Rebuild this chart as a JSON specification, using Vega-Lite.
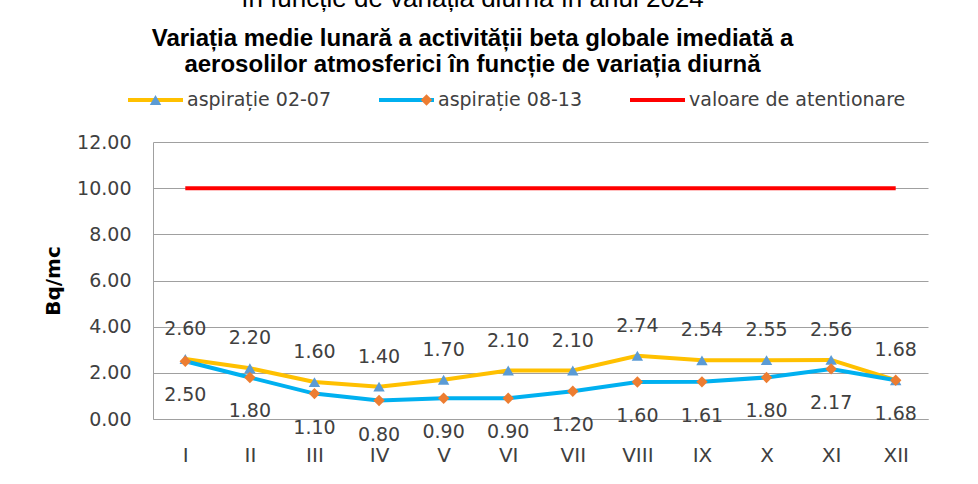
{
  "$schema": "https://vega.github.io/schema/vega-lite/v6.json",
  "width": 775,
  "height": 277,
  "autosize": {"type": "none"},
  "padding": {"left": 153, "top": 142, "right": 50, "bottom": 65},
  "background": "white",
  "config": {"view": {"stroke": null}},
  "title": {
    "text": "în funcție de variația diurnă în anul 2024",
    "subtitle": ["Variația medie lunară a activității beta globale imediată a", "aerosolilor atmosferici în funcție de variația diurnă"],
    "anchor": "middle",
    "dx": -68,
    "offset": 13,
    "font": "Liberation Sans",
    "fontSize": 26,
    "fontWeight": "normal",
    "color": "#000000",
    "subtitleFont": "Liberation Sans",
    "subtitleFontSize": 24,
    "subtitleFontWeight": "bold",
    "subtitleColor": "#000000",
    "subtitleLineHeight": 26,
    "subtitlePadding": 15
  },
  "data": {"values": [
    {"luna": "I", "serie": "aspirație 02-07", "valoare": 2.60},
    {"luna": "II", "serie": "aspirație 02-07", "valoare": 2.20},
    {"luna": "III", "serie": "aspirație 02-07", "valoare": 1.60},
    {"luna": "IV", "serie": "aspirație 02-07", "valoare": 1.40},
    {"luna": "V", "serie": "aspirație 02-07", "valoare": 1.70},
    {"luna": "VI", "serie": "aspirație 02-07", "valoare": 2.10},
    {"luna": "VII", "serie": "aspirație 02-07", "valoare": 2.10},
    {"luna": "VIII", "serie": "aspirație 02-07", "valoare": 2.74},
    {"luna": "IX", "serie": "aspirație 02-07", "valoare": 2.54},
    {"luna": "X", "serie": "aspirație 02-07", "valoare": 2.55},
    {"luna": "XI", "serie": "aspirație 02-07", "valoare": 2.56},
    {"luna": "XII", "serie": "aspirație 02-07", "valoare": 1.68},
    {"luna": "I", "serie": "aspirație 08-13", "valoare": 2.50},
    {"luna": "II", "serie": "aspirație 08-13", "valoare": 1.80},
    {"luna": "III", "serie": "aspirație 08-13", "valoare": 1.10},
    {"luna": "IV", "serie": "aspirație 08-13", "valoare": 0.80},
    {"luna": "V", "serie": "aspirație 08-13", "valoare": 0.90},
    {"luna": "VI", "serie": "aspirație 08-13", "valoare": 0.90},
    {"luna": "VII", "serie": "aspirație 08-13", "valoare": 1.20},
    {"luna": "VIII", "serie": "aspirație 08-13", "valoare": 1.60},
    {"luna": "IX", "serie": "aspirație 08-13", "valoare": 1.61},
    {"luna": "X", "serie": "aspirație 08-13", "valoare": 1.80},
    {"luna": "XI", "serie": "aspirație 08-13", "valoare": 2.17},
    {"luna": "XII", "serie": "aspirație 08-13", "valoare": 1.68},
    {"luna": "I", "serie": "valoare de atentionare", "valoare": 10},
    {"luna": "II", "serie": "valoare de atentionare", "valoare": 10},
    {"luna": "III", "serie": "valoare de atentionare", "valoare": 10},
    {"luna": "IV", "serie": "valoare de atentionare", "valoare": 10},
    {"luna": "V", "serie": "valoare de atentionare", "valoare": 10},
    {"luna": "VI", "serie": "valoare de atentionare", "valoare": 10},
    {"luna": "VII", "serie": "valoare de atentionare", "valoare": 10},
    {"luna": "VIII", "serie": "valoare de atentionare", "valoare": 10},
    {"luna": "IX", "serie": "valoare de atentionare", "valoare": 10},
    {"luna": "X", "serie": "valoare de atentionare", "valoare": 10},
    {"luna": "XI", "serie": "valoare de atentionare", "valoare": 10},
    {"luna": "XII", "serie": "valoare de atentionare", "valoare": 10}
  ]},
  "encoding": {
    "x": {
      "field": "luna", "type": "ordinal",
      "sort": ["I", "II", "III", "IV", "V", "VI", "VII", "VIII", "IX", "X", "XI", "XII"],
      "scale": {"type": "point", "padding": 0.5},
      "axis": {
        "title": null, "labelAngle": 0, "labelPadding": 26, "ticks": false,
        "domain": true, "domainColor": "#A0A0A0", "domainWidth": 1, "grid": false,
        "labelFont": "DejaVu Sans", "labelFontSize": 20, "labelColor": "#404040"
      }
    },
    "y": {
      "field": "valoare", "type": "quantitative",
      "scale": {"domain": [0, 12], "nice": false, "zero": true},
      "axis": {
        "title": "Bq/mc", "values": [0, 2, 4, 6, 8, 10, 12], "format": ".2f",
        "ticks": false, "domain": true, "domainColor": "#A0A0A0", "domainWidth": 1,
        "grid": true, "gridColor": "#A0A0A0", "gridWidth": 1,
        "labelPadding": 22, "labelFont": "DejaVu Sans", "labelFontSize": 19, "labelColor": "#404040",
        "titleFont": "DejaVu Sans", "titleFontSize": 20, "titleFontWeight": "bold", "titleColor": "#000000",
        "titlePadding": 13
      }
    }
  },
  "layer": [
    {
      "mark": {"type": "line", "strokeWidth": 4},
      "encoding": {
        "stroke": {
          "field": "serie", "type": "nominal",
          "scale": {"domain": ["aspirație 02-07", "aspirație 08-13", "valoare de atentionare"], "range": ["#FFC000", "#00B0F0", "#FF0000"]},
          "legend": {
            "orient": "none", "legendX": -27, "legendY": -52, "direction": "horizontal",
            "title": null, "symbolType": "stroke", "symbolSize": 3025, "symbolStrokeWidth": 4,
            "clipHeight": 20, "labelOffset": 2, "columnPadding": 45, "padding": 0,
            "labelFont": "DejaVu Sans", "labelFontSize": 19, "labelColor": "#404040", "labelLimit": 400
          }
        }
      }
    },
    {
      "transform": [{"filter": "datum.serie != 'valoare de atentionare'"}],
      "mark": {"type": "point", "filled": true, "size": 130, "strokeWidth": 0, "opacity": 1},
      "encoding": {
        "fill": {
          "field": "serie", "type": "nominal",
          "scale": {"range": ["#5B9BD5", "#ED7D31"]},
          "legend": {
            "orient": "none", "legendX": -27, "legendY": -52, "direction": "horizontal",
            "title": null, "symbolSize": 130, "symbolStrokeWidth": 0, "symbolOffset": 20,
            "clipHeight": 20, "labelOffset": 42, "columnPadding": 45, "padding": 0, "labelOpacity": 0,
            "labelFont": "DejaVu Sans", "labelFontSize": 19, "labelLimit": 400
          }
        },
        "shape": {
          "field": "serie", "type": "nominal",
          "scale": {"range": ["triangle-up", "diamond"]}
        }
      }
    },
    {
      "transform": [{"filter": "datum.serie == 'aspirație 02-07'"}],
      "mark": {"type": "text", "dy": -30, "baseline": "middle", "font": "DejaVu Sans", "fontSize": 19, "color": "#404040"},
      "encoding": {"text": {"field": "valoare", "type": "quantitative", "format": ".2f"}}
    },
    {
      "transform": [{"filter": "datum.serie == 'aspirație 08-13'"}],
      "mark": {"type": "text", "dy": 34, "baseline": "middle", "font": "DejaVu Sans", "fontSize": 19, "color": "#404040"},
      "encoding": {"text": {"field": "valoare", "type": "quantitative", "format": ".2f"}}
    }
  ]
}
